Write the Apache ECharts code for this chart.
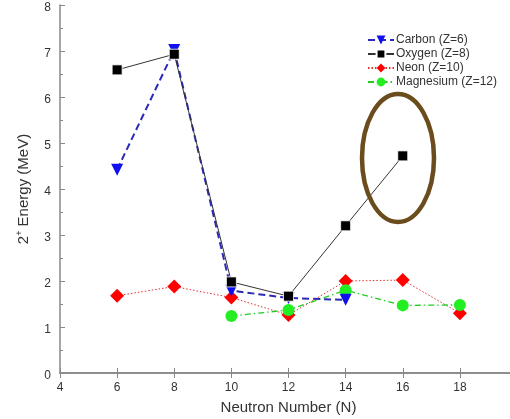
<!DOCTYPE html>
<html><head><meta charset="utf-8">
<script src="https://cdn.jsdelivr.net/npm/echarts@6/dist/echarts.min.js"></script>
<style>html,body{margin:0;padding:0;background:#fff}#c{width:510px;height:419px}</style>
</head><body><div id="c"></div>
<script>
const neutrons = [6, 8, 10, 12, 14, 16, 18];
const carbonN = [6, 8, 10, 12, 14];
const carbon = [4.42, 7.02, 1.79, 1.63, 1.59];
const oxygenN = [6, 8, 10, 12, 14, 16];
const oxygen = [6.59, 6.93, 1.98, 1.67, 3.2, 4.72];
const neonN = [6, 8, 10, 12, 14, 16, 18];
const neon = [1.68, 1.88, 1.64, 1.26, 2.0, 2.02, 1.30];
const magnesiumN = [10, 12, 14, 16, 18];
const magnesium = [1.24, 1.37, 1.80, 1.47, 1.48];
const xTicks = [4, 6, 8, 10, 12, 14, 16, 18, 20];
const yTicks = [0, 1, 2, 3, 4, 5, 6, 7, 8];

const pair = (xs, ys) => xs.map((x, i) => [x, ys[i]]);
const chart = echarts.init(document.getElementById('c'));
const axisColor = '#888';
const font = 'Liberation Sans, Arial, sans-serif';
chart.setOption({
  animation: false,
  grid: { left: 60, top: 5, right: -7, bottom: 46, outerBoundsMode: 'none', containLabel: false },
  legend: {
    data: ['Carbon (Z=6)', 'Oxygen (Z=8)', 'Neon (Z=10)', 'Magnesium (Z=12)'],
    orient: 'vertical', left: 362, top: 29, itemGap: 2,
    itemWidth: 26, itemHeight: 11,
    textStyle: { fontFamily: font, fontSize: 12, color: '#333', padding: [0, 0, 0, -3] }
  },
  xAxis: [{
    type: 'value', min: xTicks[0], max: xTicks[xTicks.length - 1], interval: 2,
    name: 'Neutron Number (N)', nameLocation: 'middle', nameGap: 27,
    nameTextStyle: { fontFamily: font, fontSize: 15, color: '#333' },
    axisLine: { lineStyle: { color: axisColor, width: 1.5 } },
    axisTick: { inside: true, length: 5, lineStyle: { color: axisColor } },
    axisLabel: { fontFamily: font, fontSize: 12, color: '#333', margin: 9 },
    splitLine: { show: false }
  }, {
    type: 'value', position: 'top', min: xTicks[0], max: xTicks[xTicks.length - 1], interval: 2,
    axisLine: { show: true, lineStyle: { color: axisColor, width: 1.5 } },
    axisTick: { inside: true, length: 5, lineStyle: { color: axisColor } },
    axisLabel: { show: false }, splitLine: { show: false }
  }],
  yAxis: [{
    type: 'value', min: yTicks[0], max: yTicks[yTicks.length - 1], interval: 1,
    name: '{a|2}{s|+}{a| Energy (MeV)}', nameLocation: 'middle', nameGap: 28,
    nameTextStyle: { rich: {
      a: { fontFamily: font, fontSize: 15, color: '#333' },
      s: { fontFamily: font, fontSize: 9, color: '#333', verticalAlign: 'bottom', padding: [0, 0, 8, 0] }
    } },
    axisLine: { show: true, lineStyle: { color: axisColor, width: 1.5 } },
    axisTick: { inside: true, length: 5, lineStyle: { color: axisColor } },
    minorTick: { show: true, splitNumber: 2, length: 3, lineStyle: { color: axisColor } },
    axisLabel: { fontFamily: font, fontSize: 12, color: '#333', margin: 9, verticalAlign: 'top', lineHeight: 5 },
    splitLine: { show: false }
  }, {
    type: 'value', position: 'right', min: 0, max: 8, interval: 1,
    axisLine: { show: true, lineStyle: { color: axisColor } },
    axisTick: { show: false }, axisLabel: { show: false }, splitLine: { show: false }
  }],
  series: [{
    name: 'Neon (Z=10)', type: 'line', z: 2, data: pair(neonN, neon),
    symbol: 'diamond', symbolSize: 14,
    lineStyle: { color: '#e03030', width: 1, type: [1.5, 2] },
    itemStyle: { color: '#ff0000' }
  }, {
    name: 'Magnesium (Z=12)', type: 'line', z: 3, data: pair(magnesiumN, magnesium),
    symbol: 'circle', symbolSize: 12,
    lineStyle: { color: '#22cc22', width: 1.3, type: [6, 3, 1.5, 3] },
    itemStyle: { color: '#22ee22' }
  }, {
    name: 'Carbon (Z=6)', type: 'line', z: 4, data: pair(carbonN, carbon),
    symbol: 'triangle', symbolRotate: 180, symbolSize: 12,
    lineStyle: { color: '#2a2ab8', width: 2, type: [7, 4] },
    itemStyle: { color: '#1010ee' }
  }, {
    name: 'Oxygen (Z=8)', type: 'line', z: 5, data: pair(oxygenN, oxygen),
    symbol: 'rect', symbolSize: 10,
    lineStyle: { color: '#333', width: 1 },
    itemStyle: { color: '#000', borderColor: '#fff', borderWidth: 0.8 }
  }],
  graphic: [{
    type: 'ellipse', shape: { cx: 398, cy: 158, rx: 36, ry: 64 },
    style: { fill: 'none', stroke: '#6b4c1c', lineWidth: 4.5 }, z: 100
  }]
});
</script></body></html>
